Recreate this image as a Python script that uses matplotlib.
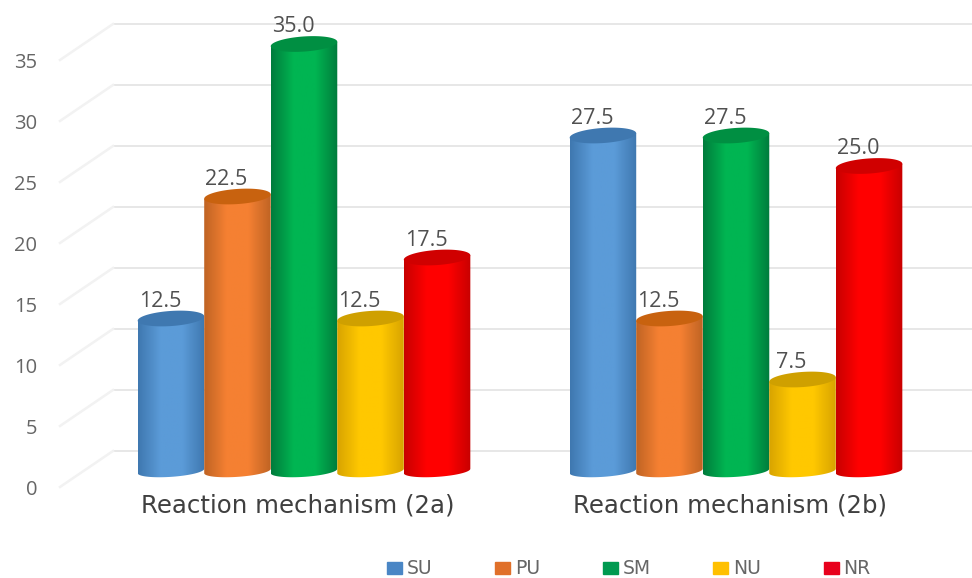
import numpy as np
import matplotlib.pyplot as plt
from matplotlib.colors import LinearSegmentedColormap
from matplotlib.patches import Patch, PathPatch
from matplotlib.path import Path

plt.rcParams['font.family'] = ['Open Sans', 'DejaVu Sans']

categories = ["Reaction mechanism (2a)", "Reaction mechanism (2b)"]
series_names = ["SU", "PU", "SM", "NU", "NR"]
SU = [12.5, 27.5]
PU = [22.5, 12.5]
SM = [35.0, 27.5]
NU = [12.5, 7.5]
NR = [17.5, 25.0]
y_ticks = [0, 5, 10, 15, 20, 25, 30, 35]

# edge, centre and lid colours of each cylinder
EDGE = ["#3f78b0", "#c06424", "#007c3c", "#d8a400", "#c80000"]
CENTRE = ["#5b9bd8", "#f58032", "#00b552", "#ffc800", "#ff0000"]
LID = ["#3f78b0", "#c8620f", "#008f42", "#cfa000", "#d00000"]
LEGEND_COLORS = ["#4a86c5", "#e0702a", "#009a50", "#ffc000", "#e8001c"]

BAR_W = 0.154
LID_H = 0.62    # half height of the top ellipse, y units
FOOT_H = 0.48   # half height of the bottom ellipse
LEAN = 0.18     # ellipses lean up to the right
WALL_SHIFT = 1.64    # back wall sits above the bars
FLOOR_DROP = 1.56    # tick labels sit in front of the bars

fig = plt.figure(figsize=(9.72, 5.78), dpi=100)
ax = fig.add_axes([0, 0, 1, 1])
ax.axis("off")
x_left = -304 / 432
x_right = (972 - 304) / 432
y_bottom = -(578 - 471) / 12.2
y_top = 471 / 12.2


def cylinder(x, value, i):
    t = np.linspace(0, 2 * np.pi, 80)
    low = t[t >= np.pi]
    lx = x + BAR_W / 2 * np.cos(low)
    ly = FOOT_H * np.sin(low) + LEAN * np.cos(low)
    verts = list(zip(lx, ly)) + [(x + BAR_W / 2, value + LEAN), (x - BAR_W / 2, value - LEAN)]
    body = PathPatch(Path(verts + [verts[0]]), fc="none", ec="none")
    ax.add_patch(body)

    u = np.linspace(0, 1, 64)[None, :]
    cmap = LinearSegmentedColormap.from_list("c", [EDGE[i], CENTRE[i], CENTRE[i], EDGE[i]])
    im = ax.imshow(u, extent=[x - BAR_W / 2, x + BAR_W / 2, -FOOT_H - 0.3, value + 0.4],
                   aspect="auto", cmap=cmap, zorder=3 + i)
    im.set_clip_path(body)

    lid_x = x + BAR_W / 2 * np.cos(t)
    lid_y = value + LID_H * np.sin(t) + LEAN * np.cos(t)
    ax.fill(lid_x, lid_y, color=LID[i], lw=0, zorder=3 + i)


# back wall gridlines with the short diagonal running to each tick
wall = ax.get_yaxis_transform()
for v in y_ticks:
    ax.plot([113 / 972, 1], [v + WALL_SHIFT, v + WALL_SHIFT], transform=wall,
            color="#e5e5e5", lw=1.3, zorder=1)
    ax.plot([60 / 972, 113 / 972], [v - FLOOR_DROP + 0.25, v + WALL_SHIFT], transform=wall,
            color="#f2f2f2", lw=1.8, zorder=1)
    ax.text(37 / 972, v - FLOOR_DROP, str(v), transform=wall, ha="right", va="center",
            fontsize=14.5, color="#666666")

series = [SU, PU, SM, NU, NR]
for i, vals in enumerate(series):
    for g, v in enumerate(vals):
        x = g + (i - 2) * BAR_W
        cylinder(x, v, i)
        ax.annotate(f"{v:.1f}", (x, v), xytext=(-11, 17), textcoords="offset pixels",
                    ha="center", va="center", fontsize=15.5, color="#505050", zorder=20)

for g, name in enumerate(categories):
    ax.annotate(name, (g, 0), xytext=(-6, -35), textcoords="offset pixels",
                ha="center", va="center", fontsize=17.6, color="#404040",
                family="DejaVu Sans")

handles = [Patch(color=c, label=n) for c, n in zip(LEGEND_COLORS, series_names)]
ax.legend(handles=handles, ncol=5, frameon=False, loc="center left",
          bbox_to_anchor=(387 / 972, 1 - 569 / 578), labelcolor="#666666",
          prop={"family": "DejaVu Sans", "size": 13.5},
          handlelength=0.8, handleheight=0.6, handletextpad=0.25, columnspacing=3.35,
          borderpad=0, borderaxespad=0)

ax.set_xlim(x_left, x_right)
ax.set_ylim(y_bottom, y_top)
fig.savefig("out.png", dpi=100)
